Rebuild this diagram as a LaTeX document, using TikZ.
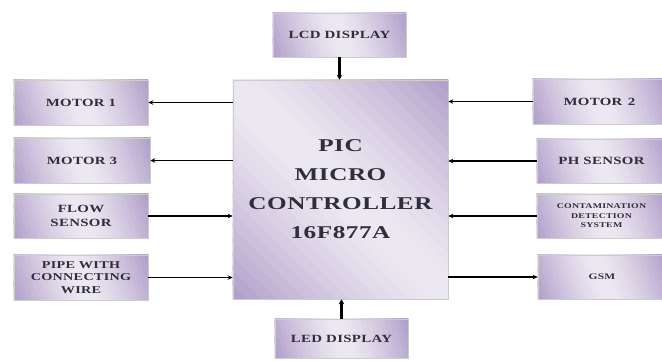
\documentclass[tikz,border=0pt]{standalone}
\usepackage{fontspec}
\setmainfont{Liberation Serif}
\newfontfamily\bfnt[FakeStretch=1.35,LetterSpace=3]{Liberation Serif}
\newfontfamily\cfnt[FakeStretch=1.4,LetterSpace=3]{Liberation Serif}
\usetikzlibrary{arrows.meta,calc,backgrounds}
\definecolor{lav}{HTML}{AE9CC8}
\definecolor{lite}{HTML}{EDE9F2}
\definecolor{txt}{HTML}{2F2E3B}
\tikzset{
  blk/.style={draw=gray!40, line width=0.6pt,
    text=txt, font=\bfnt\bfseries\fontsize{11}{14}\selectfont, align=center, inner sep=1pt},
  arr/.style={-{Stealth[length=5pt,width=4.5pt]}, line width=1.3pt, black},
  varr/.style={-{Stealth[length=5pt,width=5.5pt]}, line width=2.4pt, black}
}
\newcommand\gbox[1]{%
  \begin{scope}
  \clip (#1.south west) rectangle (#1.north east);
  \foreach \k in {0,...,29}{%
    \pgfmathsetmacro\sa{\k/30}%
    \pgfmathsetmacro\sb{(\k+1.3)/30}%
    \pgfmathsetmacro\pp{100*(abs(\k+0.5-15)/15)^1.4}%
    \fill[lav!\pp!lite] ($($(#1.south west)!\sa!(#1.north east)$)!300pt!90:($(#1.south west)!\sb!(#1.north east)$)$)
      -- ($($(#1.south west)!\sa!(#1.north east)$)!300pt!-90:($(#1.south west)!\sb!(#1.north east)$)$)
      -- ($($(#1.south west)!\sb!(#1.north east)$)!300pt!90:($(#1.south west)!\sa!(#1.north east)$)$)
      -- ($($(#1.south west)!\sb!(#1.north east)$)!300pt!-90:($(#1.south west)!\sa!(#1.north east)$)$) -- cycle;
  }
  \end{scope}}
\begin{document}
\begin{tikzpicture}[x=1pt,y=-1pt]
\useasboundingbox (0,0) rectangle (662,361);
\node[blk, minimum width=215pt, minimum height=219pt, font=\cfnt\bfseries\fontsize{18}{29}\selectfont] (c) at (340.5,189.5) {PIC\\MICRO\\CONTROLLER\\16F877A};
\node[blk, minimum width=133pt, minimum height=44pt] (lcd) at (339.5,35) {LCD DISPLAY};
\node[blk, minimum width=133pt, minimum height=39pt] (led) at (341.5,338.5) {LED DISPLAY};
\node[blk, minimum width=134pt, minimum height=45pt] (m1) at (81,102.5) {MOTOR 1};
\node[blk, minimum width=136pt, minimum height=45pt] (m3) at (82,160.5) {MOTOR 3};
\node[blk, minimum width=134pt, minimum height=44pt, font=\bfnt\bfseries\fontsize{11}{14}\selectfont] (flow) at (81,216) {FLOW\\SENSOR};
\node[blk, minimum width=134pt, minimum height=45pt, font=\bfnt\bfseries\fontsize{10.5}{12.3}\selectfont] (pipe) at (81,277.5) {PIPE WITH\\CONNECTING\\WIRE};
\node[blk, minimum width=133pt, minimum height=45pt] (m2) at (599.5,101.5) {MOTOR\enspace 2};
\node[blk, minimum width=129pt, minimum height=44pt] (ph) at (601.5,161) {PH SENSOR};
\node[blk, minimum width=129pt, minimum height=44pt, font=\bfnt\bfseries\fontsize{7.3}{9.5}\selectfont] (cont) at (601.5,216) {CONTAMINATION\\DETECTION\\SYSTEM};
\node[blk, minimum width=128pt, minimum height=44pt, font=\bfnt\bfseries\fontsize{8.5}{10}\selectfont] (gsm) at (602,277) {GSM};
\begin{scope}[on background layer]
\foreach \n in {c,lcd,led,m1,m3,flow,pipe,m2,ph,cont,gsm}{\gbox{\n}}
\end{scope}
\draw[varr] (lcd) -- (c.north -| lcd);
\draw[varr] (led) -- (c.south -| led);
\draw[arr] (c.west |- m1) -- (m1);
\draw[arr] (c.west |- m3) -- (m3);
\draw[arr] (flow) -- (c.west |- flow);
\draw[arr] (pipe) -- (c.west |- pipe);
\draw[arr] (m2) -- (c.east |- m2);
\draw[arr] (ph) -- (c.east |- ph);
\draw[arr] (cont) -- (c.east |- cont);
\draw[arr] (c.east |- gsm) -- (gsm);
\end{tikzpicture}
\end{document}
